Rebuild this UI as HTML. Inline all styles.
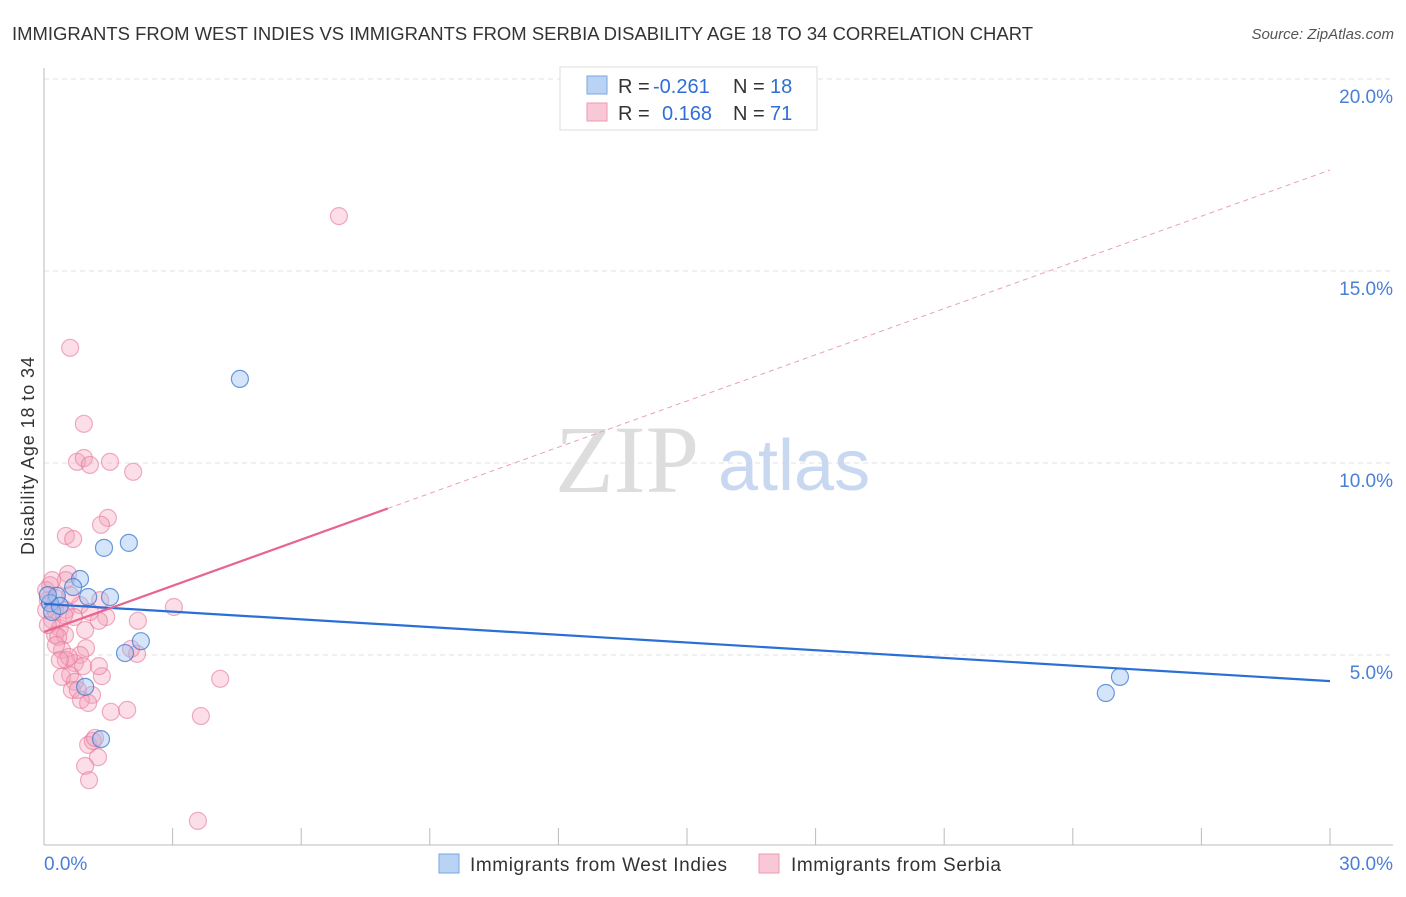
<!DOCTYPE html>
<html><head><meta charset="utf-8"><style>
body{margin:0;background:#fff;font-family:"Liberation Sans",sans-serif;}
</style></head><body>
<svg width="1406" height="892" xmlns="http://www.w3.org/2000/svg" font-family="Liberation Sans, sans-serif">
<text x="12" y="40" font-size="18" fill="#333" textLength="1021" lengthAdjust="spacingAndGlyphs">IMMIGRANTS FROM WEST INDIES VS IMMIGRANTS FROM SERBIA DISABILITY AGE 18 TO 34 CORRELATION CHART</text>
<text x="1394" y="39" font-size="15" fill="#555" font-style="italic" text-anchor="end">Source: ZipAtlas.com</text>
<g id="grid"></g>
<line x1="44" y1="68" x2="44" y2="845" stroke="#bbb"/>
<line x1="44" y1="845" x2="1393" y2="845" stroke="#bbb"/>
<g id="xticks"></g>
<g id="yticks"></g>
<text x="44" y="870" font-size="19" fill="#4a7fd6">0.0%</text>
<text x="1393" y="870" font-size="19" fill="#4a7fd6" text-anchor="end">30.0%</text>
<text transform="translate(34,456) rotate(-90)" font-size="18" fill="#333" text-anchor="middle" textLength="198">Disability Age 18 to 34</text>
<g><text x="555" y="492" font-size="96" font-family="Liberation Serif, serif" fill="#ddd">ZIP</text><text x="718" y="490" font-size="72" fill="#c8d8f0">atlas</text></g>
<g id="pink"></g>
<g id="blue"></g>
<g id="lines"></g>
<g font-size="20">
<rect x="560" y="67" width="257" height="63" fill="#fff" stroke="#ddd"/>
<rect x="587" y="76" width="20" height="18" fill="#b9d3f5" stroke="#7aa6e0"/>
<rect x="587" y="103" width="20" height="18" fill="#f9c8d6" stroke="#ec9ab2"/>
<text x="618" y="93" fill="#333">R =</text>
<text x="653" y="93" fill="#2f6fd6">-0.261</text>
<text x="733" y="93" fill="#333">N =</text>
<text x="770" y="93" fill="#2f6fd6">18</text>
<text x="618" y="120" fill="#333">R =</text>
<text x="662" y="120" fill="#2f6fd6">0.168</text>
<text x="733" y="120" fill="#333">N =</text>
<text x="770" y="120" fill="#2f6fd6">71</text>
</g>
<g>
<rect x="439" y="854" width="20" height="19" fill="#b9d3f5" stroke="#7aa6e0"/>
<text x="470" y="871" font-size="19" fill="#333" textLength="257">Immigrants from West Indies</text>
<rect x="759" y="854" width="20" height="19" fill="#f9c8d6" stroke="#ec9ab2"/>
<text x="791" y="871" font-size="19" fill="#333" textLength="210">Immigrants from Serbia</text>
</g>
</svg>
<script>
const yTicks=[5,10,15,20];
const xTickVals=[0,3,6,9,12,15,18,21,24,27,30];
const blueX=[4.57,1.40,1.98,0.84,0.68,1.03,1.54,0.30,0.14,2.26,1.89,0.96,1.33,24.77,25.10,0.19,0.37,0.09];
const blueY=[12.19,7.79,7.92,6.98,6.77,6.51,6.51,6.54,6.35,5.36,5.05,4.17,2.81,4.01,4.43,6.12,6.28,6.56];
const pinkX=[6.88,0.61,0.93,0.77,0.93,1.07,1.54,2.08,1.49,1.33,0.51,0.68,3.03,2.19,1.45,0.56,0.51,0.84,0.51,0.14,0.09,0.26,0.19,0.37,0.26,0.49,0.33,0.96,0.70,0.98,0.42,0.84,0.51,0.72,0.58,1.28,2.17,2.03,0.91,0.61,0.42,0.72,1.35,1.28,0.65,1.12,0.86,1.03,1.56,1.94,4.11,3.66,1.03,1.14,1.19,1.26,0.96,1.05,3.59,0.05,0.05,0.09,0.19,0.28,0.79,0.37,0.61,1.31,0.47,1.07,0.28];
const pinkY=[16.43,13.0,11.02,10.03,10.13,9.95,10.03,9.77,8.57,8.39,8.10,8.02,6.25,5.89,5.99,7.11,6.95,6.30,6.17,6.82,6.43,6.17,5.91,5.70,5.52,5.52,5.47,5.65,5.99,5.18,5.13,5.00,4.87,4.79,4.95,5.89,5.03,5.16,4.71,4.48,4.43,4.30,4.45,4.71,4.09,3.96,3.83,3.75,3.52,3.57,4.38,3.41,2.66,2.76,2.84,2.34,2.11,1.74,0.68,6.69,6.17,5.78,6.95,5.26,4.09,4.87,6.56,6.43,6.04,6.12,6.48];
const blueTrend=[6.33,4.32];
const pinkTrend=[5.60,17.63];
const pinkSolidEnd=8.02;
const NS="http://www.w3.org/2000/svg";
const sx=v=>44+v/30*1286, sy=v=>847-v*38.4;
function mk(tag,parent,attrs){const e=document.createElementNS(NS,tag);for(const k in attrs)e.setAttribute(k,attrs[k]);document.getElementById(parent).appendChild(e);return e;}
yTicks.forEach(t=>{
 const l=mk('line','grid',{x1:44,x2:1393,y1:sy(t),y2:sy(t),stroke:'#e2e2e2','stroke-dasharray':'5,4'});
 
 
 const tx=mk('text','yticks',{x:1393,y:sy(t)+24,'font-size':19,fill:'#4a7fd6','text-anchor':'end'});
 tx.textContent=t.toFixed(1)+'%';
 
 
});
xTickVals.forEach(t=>{
 const l=mk('line','xticks',{x1:sx(t),x2:sx(t),y1:828,y2:845,stroke:'#bbb'});
 
 
});
pinkX.forEach((x,i)=>{
 const c=mk('circle','pink',{cx:sx(x),cy:sy(pinkY[i]),r:8.5,fill:'rgba(244,160,185,0.35)',stroke:'rgba(232,120,155,0.6)','stroke-width':1.2});
 
 
});
blueX.forEach((x,i)=>{
 const c=mk('circle','blue',{cx:sx(x),cy:sy(blueY[i]),r:8.5,fill:'rgba(150,190,240,0.4)',stroke:'rgba(60,120,210,0.75)','stroke-width':1.2});
 
 
});
const pv=x=>pinkTrend[0]+(pinkTrend[1]-pinkTrend[0])*x/30;
let l1=mk('line','lines',{x1:sx(0),y1:sy(blueTrend[0]),x2:sx(30),y2:sy(blueTrend[1]),stroke:'#2a6fd6','stroke-width':2.2});


let l2=mk('line','lines',{x1:sx(0),y1:sy(pv(0)),x2:sx(pinkSolidEnd),y2:sy(pv(pinkSolidEnd)),stroke:'#e8658f','stroke-width':2.2});


let l3=mk('line','lines',{x1:sx(pinkSolidEnd),y1:sy(pv(pinkSolidEnd)),x2:sx(30),y2:sy(pv(30)),stroke:'#eba0b8','stroke-width':1,'stroke-dasharray':'5,4'});


</script>
</body></html>
